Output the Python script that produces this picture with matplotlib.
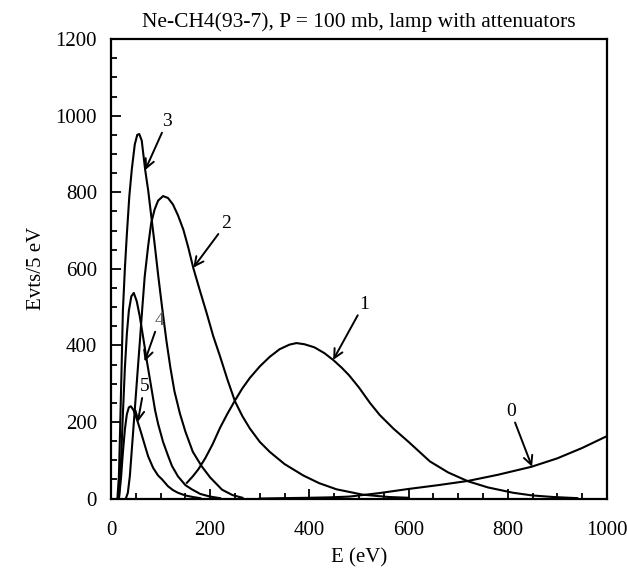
import matplotlib
matplotlib.use("Agg")
import matplotlib.pyplot as plt
from matplotlib.ticker import MultipleLocator

plt.rcParams['font.family'] = ['Liberation Serif', 'DejaVu Serif']

# spectra (E in eV, counts per 5 eV)
e0 = [300, 350, 400, 440, 480, 540, 600, 660, 720, 780, 848, 900, 950, 1000]
n0 = [0, 1, 2, 3, 5, 14, 25, 35, 46, 62, 83, 105, 132, 163]

e1 = [153, 165, 176, 190, 205, 220, 235, 250, 265, 280, 300, 320, 340, 360, 374,
      390, 410, 430, 448, 465, 480, 500, 522, 542, 570, 600, 643, 680, 720, 760,
      811, 850, 891, 940]
n1 = [41, 58, 76, 105, 142, 185, 222, 256, 288, 315, 345, 370, 390, 402, 406,
      403, 395, 380, 362, 342, 322, 290, 250, 218, 182, 148, 97, 68, 45, 29,
      15, 8, 4, 1]

e2 = [30, 34, 38, 43, 48, 53, 58, 63, 68, 75, 81, 88, 95, 105, 115, 125, 135,
      146, 156, 166, 180, 193, 206, 220, 235, 250, 265, 280, 300, 320, 350, 388,
      420, 455, 508, 560, 600]
n2 = [0, 15, 58, 145, 232, 320, 406, 495, 580, 660, 719, 755, 778, 790, 785,
      768, 740, 702, 655, 602, 540, 484, 425, 371, 310, 254, 215, 183, 148, 122,
      90, 60, 40, 24, 10, 4, 2]

e3 = [13, 16, 18, 21, 24, 28, 32, 37, 42, 48, 53, 57, 62, 69, 75, 81, 88, 95,
      103, 112, 120, 128, 139, 150, 165, 183, 200, 224, 245, 265]
n3 = [0, 60, 160, 320, 490, 600, 690, 790, 860, 925, 950, 952, 935, 858, 805,
      740, 665, 585, 500, 410, 340, 280, 222, 175, 122, 84, 55, 23, 9, 2]

e4 = [16, 20, 24, 28, 32, 36, 41, 46, 52, 58, 65, 73, 80, 89, 95, 105, 115, 123,
      135, 150, 163, 180, 200, 220]
n4 = [0, 90, 220, 340, 430, 490, 528, 537, 515, 476, 420, 354, 300, 230, 195,
      148, 112, 85, 58, 35, 24, 12, 5, 1]

e5 = [16, 20, 24, 28, 32, 36, 40, 45, 50, 54, 60, 68, 75, 85, 95, 103, 115, 125,
      135, 150, 165, 180]
n5 = [0, 50, 120, 180, 220, 238, 241, 232, 215, 200, 175, 140, 110, 80, 60, 50,
      32, 22, 15, 8, 4, 1]

curves = [(e0, n0), (e1, n1), (e2, n2), (e3, n3), (e4, n4), (e5, n5)]

# label text centre and arrow tip for each curve
labels = ['0', '1', '2', '3', '4', '5']
label_xy = [(806, 228), (510, 508), (232, 718), (113, 985), (97, 465), (67, 292)]
tip_xy = [(849, 83), (448, 362), (166, 603), (69, 858), (68, 358), (54, 200)]
label_color = ['black', 'black', 'black', 'black', '#555555', 'black']

fig = plt.figure(figsize=(6.27, 5.75), dpi=100)
ax = fig.add_axes([0.177, 0.133, 0.791, 0.799])

for e, n in curves:
    ax.plot(e, n, color='black', lw=1.5)

for lab, (tx, ty), (px, py), c in zip(labels, label_xy, tip_xy, label_color):
    ax.annotate(lab, xy=(px, py), xytext=(tx, ty), fontsize=14, color=c,
                ha='center', va='center',
                arrowprops=dict(arrowstyle='->', color='black', lw=1.4,
                                mutation_scale=16, shrinkA=0, shrinkB=0))

ax.set_xlim(0, 1000)
ax.set_ylim(0, 1200)
ax.xaxis.set_major_locator(MultipleLocator(200))
ax.xaxis.set_minor_locator(MultipleLocator(50))
ax.yaxis.set_major_locator(MultipleLocator(200))
ax.yaxis.set_minor_locator(MultipleLocator(50))
ax.tick_params(which='both', direction='in', top=False, right=False,
               labelsize=15, width=1.3)
ax.tick_params(which='major', length=7)
ax.tick_params(which='minor', length=4)
ax.tick_params(axis='x', pad=16)
ax.tick_params(axis='y', pad=10)
for s in ax.spines.values():
    s.set_linewidth(1.6)

ax.set_title('Ne-CH4(93-7), P = 100 mb, lamp with attenuators', fontsize=15.5,
             pad=9)
ax.set_xlabel('E (eV)', fontsize=15, labelpad=6)
ax.set_ylabel('Evts/5 eV', fontsize=15, labelpad=7)

fig.savefig('out.png', dpi=100, facecolor='white')
